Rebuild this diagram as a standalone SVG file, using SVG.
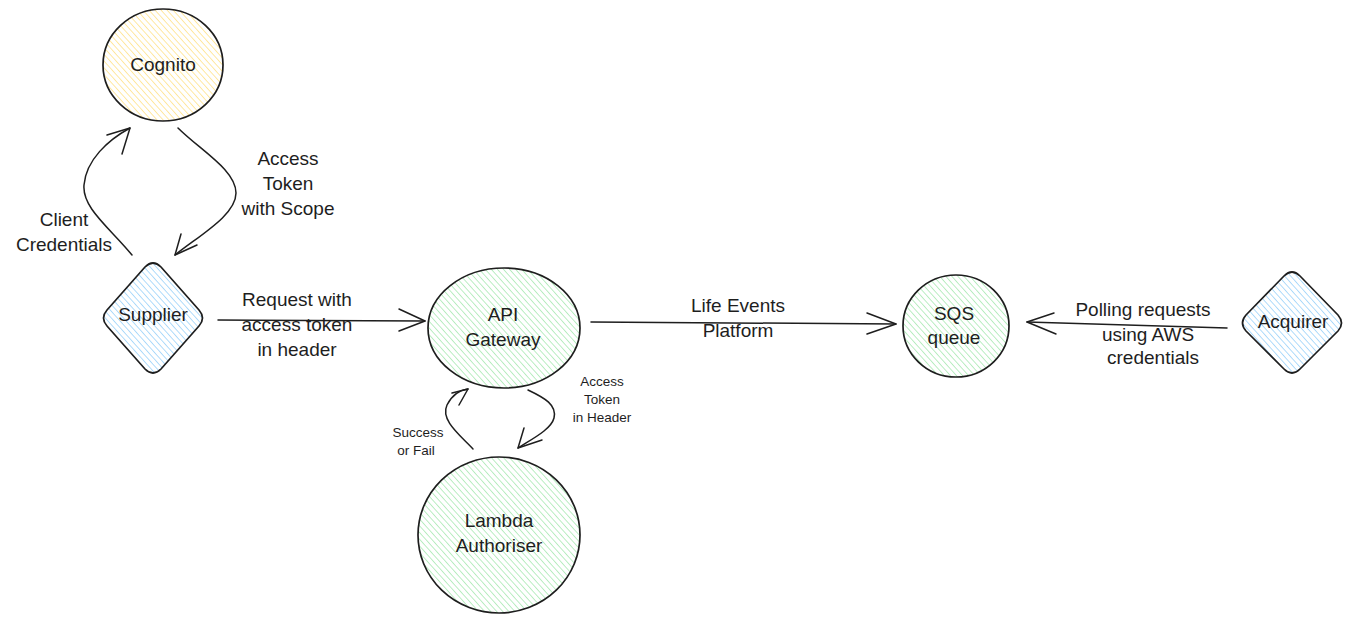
<svg xmlns="http://www.w3.org/2000/svg" width="1357" height="622" viewBox="0 0 1357 622">
<defs>
<pattern id="hY" patternUnits="userSpaceOnUse" width="4.5" height="4.5" patternTransform="rotate(-42)"><line x1="0" y1="0" x2="0" y2="4.5" stroke="#ffd966" stroke-width="1.2"/></pattern>
<pattern id="hG" patternUnits="userSpaceOnUse" width="4.5" height="4.5" patternTransform="rotate(-42)"><line x1="0" y1="0" x2="0" y2="4.5" stroke="#8ee29c" stroke-width="1.2"/></pattern>
<pattern id="hB" patternUnits="userSpaceOnUse" width="4.5" height="4.5" patternTransform="rotate(-42)"><line x1="0" y1="0" x2="0" y2="4.5" stroke="#7cc4f8" stroke-width="1.2"/></pattern>
<style>
.sh{stroke:#1e1e1e;stroke-width:1.7;stroke-linecap:round;stroke-linejoin:round}
.ln{fill:none;stroke:#1e1e1e;stroke-width:1.5;stroke-linecap:round;stroke-linejoin:round}
.t{font-family:"Liberation Sans","DejaVu Sans",sans-serif;font-size:19px;fill:#1e1e1e;text-anchor:middle;dominant-baseline:middle}
.s{font-size:13.5px}
</style>
</defs>
<rect width="1357" height="622" fill="#ffffff"/>
<g id="connectors">
<path class="ln" d="M132,255 C110,228 82,208 84,185 C86,160 108,140 130,128"/>
<path class="ln" d="M107,135 L130,128 L122,154"/>
<path class="ln" d="M178,128 C200,150 236,170 236,193 C236,215 200,235 175,255"/>
<path class="ln" d="M181,234 L175,255 L197,245"/>
<path class="ln" d="M218,320 L425,321"/>
<path class="ln" d="M399,309 L425,321 L399,331"/>
<path class="ln" d="M591,322 L896,324"/>
<path class="ln" d="M867,313 L896,324 L867,334"/>
<path class="ln" d="M1227,328 L1027,322"/>
<path class="ln" d="M1054,313 L1027,322 L1056,334"/>
<path class="ln" d="M473,449 C460,435 440,420 447,405 C452,395 460,390 468,389"/>
<path class="ln" d="M452,393 L468,389 L459,405"/>
<path class="ln" d="M528,390 C545,398 557,405 554,418 C551,430 530,440 518,448"/>
<path class="ln" d="M524,428 L518,448 L542,440"/>
</g>
<g id="cognito">
<ellipse cx="163" cy="65" rx="60" ry="56" fill="url(#hY)" class="sh"/>
<text class="t" x="163" y="66">Cognito</text>
</g>
<g id="supplier">
<path d="M145,267 Q153,259 161,267 L199,310 Q206,318 199,326 L161,369 Q153,377 145,369 L107,326 Q100,318 107,310 Z" fill="url(#hB)" class="sh"/>
<text class="t" x="153" y="316">Supplier</text>
</g>
<g id="api-gateway">
<ellipse cx="504" cy="328" rx="76" ry="60" fill="url(#hG)" class="sh"/>
<text class="t" x="503" y="316">API</text>
<text class="t" x="503" y="341">Gateway</text>
</g>
<g id="lambda-authoriser">
<ellipse cx="499" cy="535" rx="81" ry="78" fill="url(#hG)" class="sh"/>
<text class="t" x="499" y="522">Lambda</text>
<text class="t" x="499" y="547">Authoriser</text>
</g>
<g id="sqs-queue">
<ellipse cx="956" cy="326" rx="53" ry="51" fill="url(#hG)" class="sh"/>
<text class="t" x="954" y="315">SQS</text>
<text class="t" x="954" y="339">queue</text>
</g>
<g id="acquirer">
<path d="M1284,276 Q1292,268 1300,276 L1338,315 Q1345,323 1338,331 L1300,369 Q1292,377 1284,369 L1246,331 Q1239,323 1246,315 Z" fill="url(#hB)" class="sh"/>
<text class="t" x="1293" y="323">Acquirer</text>
</g>
<g id="labels">
<text class="t" x="288" y="160">Access</text>
<text class="t" x="288" y="185">Token</text>
<text class="t" x="288" y="210">with Scope</text>
<text class="t" x="64" y="221">Client</text>
<text class="t" x="64" y="246">Credentials</text>
<text class="t" x="297" y="301">Request with</text>
<text class="t" x="297" y="326">access token</text>
<text class="t" x="297" y="351">in header</text>
<text class="t" x="738" y="307">Life Events</text>
<text class="t" x="738" y="332">Platform</text>
<text class="t" x="1143" y="311">Polling requests</text>
<text class="t" x="1148" y="336">using AWS</text>
<text class="t" x="1153" y="359">credentials</text>
<text class="t s" x="602" y="382">Access</text>
<text class="t s" x="602" y="400">Token</text>
<text class="t s" x="602" y="418">in Header</text>
<text class="t s" x="418" y="433">Success</text>
<text class="t s" x="416" y="451">or Fail</text>
</g>
</svg>
